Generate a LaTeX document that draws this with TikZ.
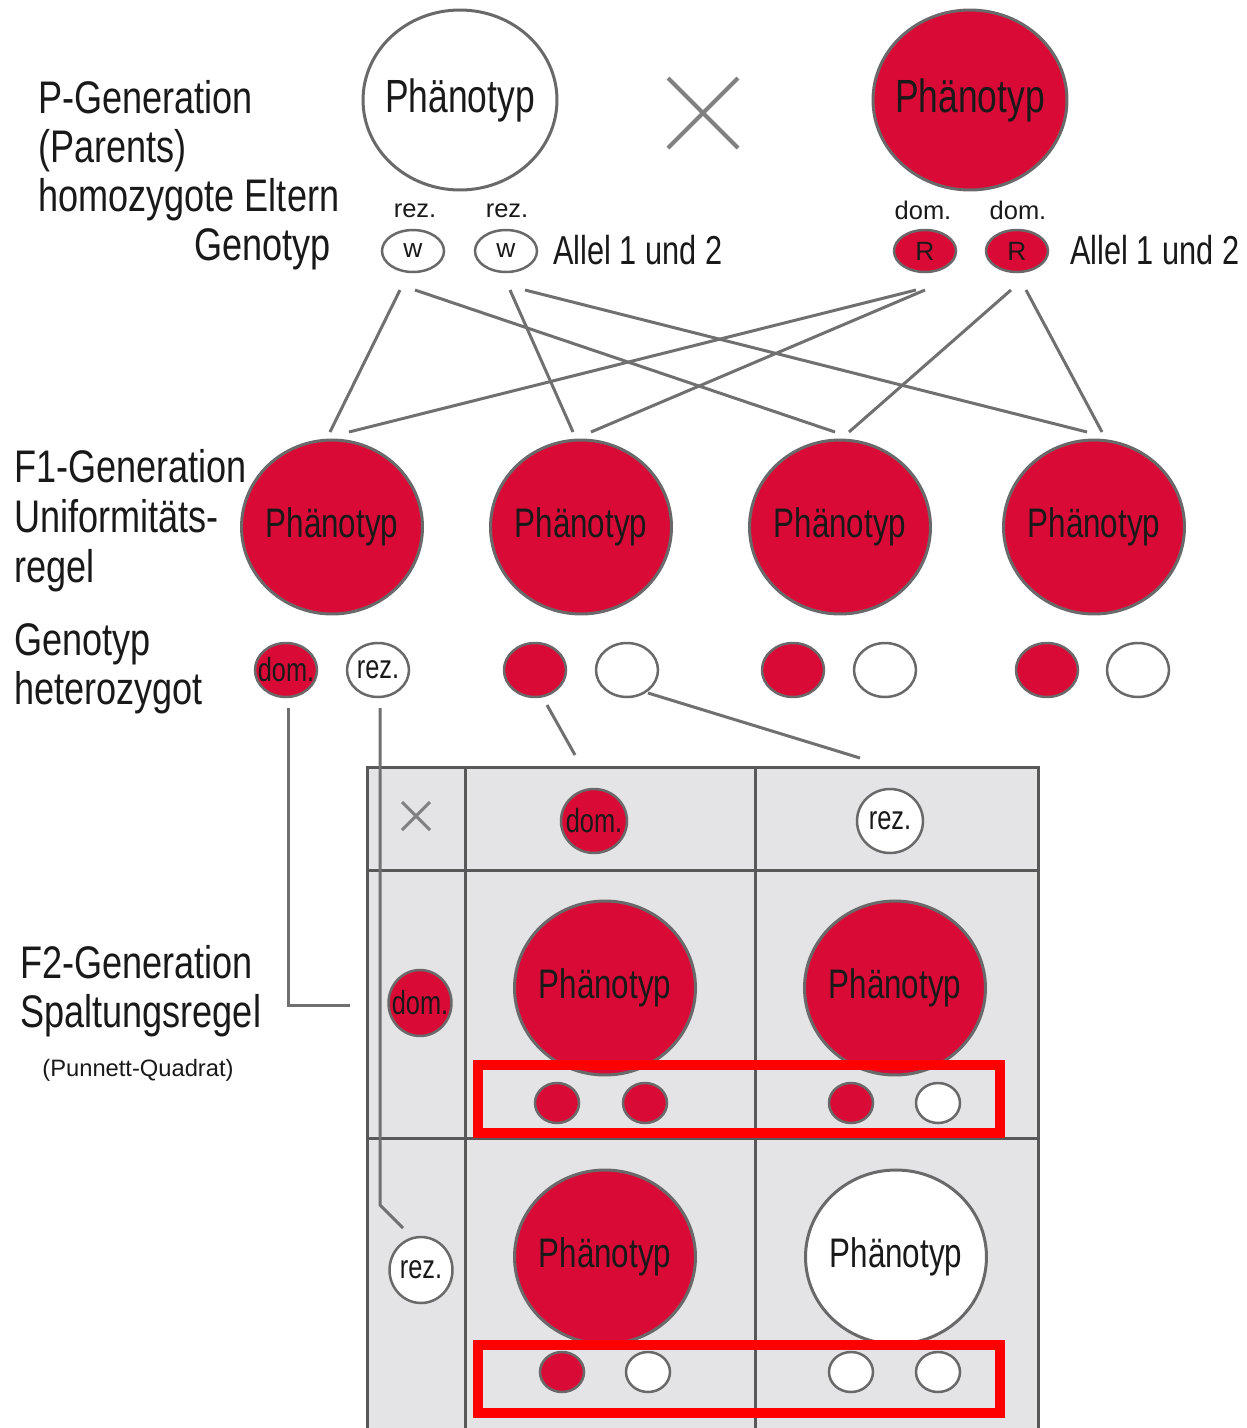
\documentclass[tikz,border=0pt]{standalone}
\usepackage{fontspec}
\setmainfont{Liberation Sans}
\newfontfamily\narrow{Liberation Sans}[FakeStretch=0.76]
\newfontfamily\narrowlab{Liberation Sans}[FakeStretch=0.79]
\usetikzlibrary{shapes.geometric,calc}

\definecolor{pred}{RGB}{218,10,54}
\definecolor{rim}{RGB}{105,105,105}
\definecolor{linegray}{RGB}{112,112,112}
\definecolor{gridgray}{RGB}{88,88,88}
\definecolor{cellgray}{RGB}{228,228,231}
\definecolor{txt}{RGB}{25,25,25}

\tikzset{
  gen/.style={font=\narrowlab\fontsize{26}{30}\selectfont, text=txt, inner sep=0pt},
  phtop/.style={font=\narrow\fontsize{26.5}{30}\selectfont, text=txt},
  ph/.style={font=\narrow\fontsize{23.5}{28}\selectfont, text=txt},
  big/.style={ellipse, draw=rim, line width=0.06cm, inner sep=0pt},
  topred/.style={big, fill=pred, minimum width=3.88cm, minimum height=3.6cm, phtop},
  topwhite/.style={big, fill=white, minimum width=3.88cm, minimum height=3.6cm, phtop},
  bigred/.style={big, fill=pred, minimum width=3.62cm, minimum height=3.48cm, ph},
  bigwhite/.style={big, fill=white, minimum width=3.62cm, minimum height=3.48cm, ph},
  pallel/.style={ellipse, draw=rim, line width=0.05cm, inner sep=0pt,
    minimum width=1.24cm, minimum height=0.84cm, font=\fontsize{15}{17}\selectfont, text=txt},
  fallel/.style={ellipse, draw=rim, line width=0.05cm, inner sep=0pt,
    minimum width=1.24cm, minimum height=1.08cm, font=\narrow\fontsize{19}{22}\selectfont, text=txt},
  hallel/.style={fallel, minimum width=1.32cm, minimum height=1.28cm},
  sallel/.style={fallel, minimum width=1.26cm, minimum height=1.32cm},
  tiny/.style={ellipse, draw=rim, line width=0.05cm, inner sep=0pt,
    minimum width=0.88cm, minimum height=0.8cm},
  small/.style={font=\fontsize{14.5}{17}\selectfont, text=txt, inner sep=0pt},
  allel/.style={font=\narrow\fontsize{23}{27}\selectfont, text=txt, inner sep=0pt},
  link/.style={draw=linegray, line width=0.06cm},
  grid/.style={draw=gridgray, line width=0.06cm},
  crossline/.style={draw=gray, line width=0.08cm},
  hilite/.style={draw=red, line width=0.2cm}
}

\begin{document}
\begin{tikzpicture}[x=0.02cm, y=-0.02cm]
\useasboundingbox (0,0) rectangle (1247,1428);

% P-Generation
\node[gen, anchor=base west] (pg1) at (38,113) {P-Generation};
\node[gen, anchor=base west] (pg2) at (38,162) {(Parents)};
\node[gen, anchor=base west] (pg3) at (38,211) {homozygote Eltern};
\node[gen, anchor=base east] (pg4) at (331,260) {Genotyp};

\node[topwhite] (pw) at (460,100) {\makebox[0pt]{Phänotyp}};
\node[topred] (pr) at (970,100) {\makebox[0pt]{Phänotyp}};
\draw[crossline] (668,78) -- (738,148) (738,78) -- (668,148);

\node[small, anchor=base] (lw1) at (415,217) {rez.};
\node[small, anchor=base] (lw2) at (507,217) {rez.};
\node[small, anchor=base] (lr1) at (923,219) {dom.};
\node[small, anchor=base] (lr2) at (1018,219) {dom.};

\node[pallel, fill=white] (w1) at (413,251) {w};
\node[pallel, fill=white] (w2) at (506,251) {w};
\node[pallel, fill=pred] (r1) at (925,251) {R};
\node[pallel, fill=pred] (r2) at (1017,251) {R};
\node[allel, anchor=base west] (al1) at (553,264) {Allel 1 und 2};
\node[allel, anchor=base west] (al2) at (1070,264) {Allel 1 und 2};

% F1-Generation
\node[gen, anchor=base west] (fg1) at (14,482) {F1-Generation};
\node[gen, anchor=base west] (fg2) at (14,532) {Uniformitäts-};
\node[gen, anchor=base west] (fg3) at (14,582) {regel};
\node[gen, anchor=base west] (fg4) at (14,655) {Genotyp};
\node[gen, anchor=base west] (fg5) at (14,704) {heterozygot};

\node[bigred] (fa) at (332,527) {\makebox[0pt]{Phänotyp}};
\node[bigred] (fb) at (581,527) {\makebox[0pt]{Phänotyp}};
\node[bigred] (fc) at (840,527) {\makebox[0pt]{Phänotyp}};
\node[bigred] (fd) at (1094,527) {\makebox[0pt]{Phänotyp}};

\node[fallel, fill=pred] (fd1) at (286,670) {\makebox[0pt]{dom.}};
\node[fallel, fill=white] (fr1) at (378,670) {\makebox[0pt]{rez.}};
\node[fallel, fill=pred] (fd2) at (535,670) {};
\node[fallel, fill=white] (fr2) at (627,670) {};
\node[fallel, fill=pred] (fd3) at (793,670) {};
\node[fallel, fill=white] (fr3) at (885,670) {};
\node[fallel, fill=pred] (fd4) at (1047,670) {};
\node[fallel, fill=white] (fr4) at (1138,670) {};

% Kreuzungslinien P -> F1
\draw[link] ($(w1)+(-13,39)$) -- ($(fa)+(-2,-95)$);
\draw[link] ($(w1)+(2,39)$) -- ($(fc)+(-5,-95)$);
\draw[link] ($(w2)+(4,39)$) -- ($(fb)+(-8,-95)$);
\draw[link] ($(w2)+(19,39)$) -- ($(fd)+(-7,-95)$);
\draw[link] ($(r1)+(-9,39)$) -- ($(fa)+(17,-95)$);
\draw[link] ($(r1)+(0,39)$) -- ($(fb)+(10,-95)$);
\draw[link] ($(r2)+(-6,39)$) -- ($(fc)+(9,-95)$);
\draw[link] ($(r2)+(9,39)$) -- ($(fd)+(8,-95)$);

% F2-Generation
\node[gen, anchor=base west] (sg1) at (20,978) {F2-Generation};
\node[gen, anchor=base west] (sg2) at (20,1027) {Spaltungsregel};
\node[font=\fontsize{13.5}{16}\selectfont, text=txt, inner sep=0pt, anchor=base] (sg3) at (138,1076) {(Punnett-Quadrat)};

% Punnett-Quadrat
\fill[cellgray] (367,767) rectangle (1038,1428);
\draw[grid] (367,1428) -- (367,767) -- (1038,767) -- (1038,1428);
\draw[grid] (465,767) -- (465,1428);
\draw[grid] (755,767) -- (755,1428);
\draw[grid] (367,870) -- (1038,870);
\draw[grid] (367,1138) -- (1038,1138);
\draw[draw=gray, line width=0.06cm] (402,802) -- (430,830) (430,802) -- (402,830);

\node[hallel, fill=pred] (hd) at (594,821) {\makebox[0pt]{dom.}};
\node[hallel, fill=white] (hr) at (890,821) {\makebox[0pt]{rez.}};
\node[sallel, fill=pred] (sd) at (420,1003) {\makebox[0pt]{dom.}};
\node[sallel, fill=white] (sr) at (421,1270) {\makebox[0pt]{rez.}};

\node[bigred] (ca) at (605,988) {\makebox[0pt]{Phänotyp}};
\node[bigred] (cb) at (895,988) {\makebox[0pt]{Phänotyp}};
\node[bigred] (cc) at (605,1257) {\makebox[0pt]{Phänotyp}};
\node[bigwhite] (cd) at (896,1257) {\makebox[0pt]{Phänotyp}};

\node[tiny, fill=pred] (ca1) at (557,1103) {};
\node[tiny, fill=pred] (ca2) at (645,1103) {};
\node[tiny, fill=pred] (cb1) at (851,1103) {};
\node[tiny, fill=white] (cb2) at (938,1103) {};
\node[tiny, fill=pred] (cc1) at (562,1372) {};
\node[tiny, fill=white] (cc2) at (648,1372) {};
\node[tiny, fill=white] (cd1) at (851,1372) {};
\node[tiny, fill=white] (cd2) at (938,1372) {};

% Verbindungen F1 -> F2
\coordinate (sdIn) at (350,1005);
\coordinate (srBend) at (380,1205);
\coordinate (hdIn) at (575,755);
\coordinate (hrIn) at (860,758);
\draw[link] ($(fd1)+(2,38)$) |- (sdIn);
\draw[link] ($(fr1)+(2,38)$) -- (srBend) -- ($(sr)+(-18,-42)$);
\draw[link] ($(fd2)+(12,35)$) -- (hdIn);
\draw[link] ($(fr2)+(21,23)$) -- (hrIn);

\draw[hilite] (478,1065) rectangle (1000,1133);
\draw[hilite] (478,1345) rectangle (1000,1413);
\end{tikzpicture}
\end{document}
